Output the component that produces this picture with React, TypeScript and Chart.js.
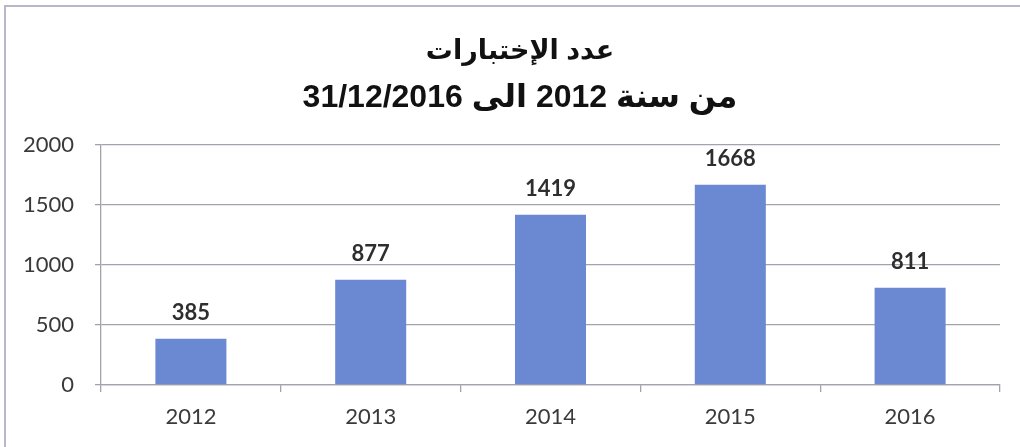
import React, { useEffect, useRef } from "react";
import { Chart, registerables } from "chart.js";

Chart.register(...registerables);

const categories: string[] = ["2012", "2013", "2014", "2015", "2016"];
const testCounts: number[] = [385, 877, 1419, 1668, 811];
const yTicks: number[] = [0, 500, 1000, 1500, 2000];
const titleLine1 = "عدد الإختبارات";
const titleLine2 = "من سنة 2012 الى 31/12/2016";

const valueLabels = {
  id: "valueLabels",
  afterDatasetsDraw(chart: any) {
    const ctx = chart.ctx;
    const meta = chart.getDatasetMeta(0);
    ctx.save();
    ctx.font = "bold 22px Lato, 'Open Sans', sans-serif";
    ctx.fillStyle = "#2e2e2e";
    ctx.textAlign = "center";
    ctx.textBaseline = "middle";
    meta.data.forEach((bar: any, i: number) => {
      ctx.fillText(String(testCounts[i]), bar.x, bar.y - 26);
    });
    ctx.restore();
  },
};

export default function App() {
  const canvasRef = useRef<HTMLCanvasElement>(null);

  useEffect(() => {
    if (!canvasRef.current) return;
    const gridColor = "#a3a3ad";
    const chart = new Chart(canvasRef.current, {
      type: "bar",
      data: {
        labels: categories,
        datasets: [
          {
            data: testCounts,
            backgroundColor: "#6b88d3",
            borderWidth: 0,
            categoryPercentage: 1,
            barPercentage: 0.395,
            yAxisID: "y",
          },
        ],
      },
      options: {
        animation: false,
        responsive: false,
        maintainAspectRatio: false,
        layout: { padding: { left: 20, right: 0, top: 0, bottom: 0 } },
        plugins: {
          legend: { display: false },
          tooltip: { enabled: false },
          title: {
            display: true,
            text: titleLine1,
            color: "#111111",
            font: { family: "'Liberation Sans', 'DejaVu Sans', sans-serif", size: 27, weight: "bold", lineHeight: 1.2 },
            padding: { top: 35, bottom: 2 },
          },
          subtitle: {
            display: true,
            text: titleLine2,
            color: "#111111",
            font: { family: "'Liberation Sans', 'DejaVu Sans', sans-serif", size: 32, weight: "bold", lineHeight: 1.2 },
            padding: { top: 10, bottom: 27.2 },
          },
        },
        scales: {
          x: {
            grid: {
              offset: true,
              drawOnChartArea: false,
              drawTicks: true,
              tickLength: 7,
              color: gridColor,
              lineWidth: 1.3,
            },
            border: { display: true, color: gridColor, width: 1.3 },
            ticks: {
              color: "#3a3a3a",
              font: { family: "Lato, 'Open Sans', sans-serif", size: 22 },
              padding: 12,
            },
            afterFit(scale: any) {
              scale.height = 62;
            },
          },
          y: {
            min: 0,
            max: 2000,
            afterBuildTicks(scale: any) {
              scale.ticks = yTicks.map((v) => ({ value: v }));
            },
            grid: {
              color: gridColor,
              lineWidth: 1.3,
              tickLength: 6,
              drawTicks: true,
            },
            border: { display: true, color: gridColor, width: 1.3 },
            ticks: {
              color: "#3a3a3a",
              font: { family: "Lato, 'Open Sans', sans-serif", size: 22 },
              padding: 21,
              callback: (value: any) => String(value),
            },
            afterFit(scale: any) {
              scale.width = 81;
            },
          },
          yRightSpace: {
            type: "linear",
            position: "right",
            display: true,
            min: 0,
            max: 2000,
            grid: { display: false, drawTicks: false },
            border: { display: false },
            ticks: { display: false },
            afterFit(scale: any) {
              scale.width = 20;
            },
          },
        },
      },
      plugins: [valueLabels],
    });
    return () => chart.destroy();
  }, []);

  return (
    <div style={{ position: "absolute", left: 0, top: 0, width: 1020, height: 447, background: "#ffffff", overflow: "hidden" }}>
      <div
        style={{
          position: "absolute",
          left: 4,
          top: 5,
          width: 1100,
          height: 600,
          borderLeft: "2px solid #bab6ca",
          borderTop: "2px solid #bab6ca",
        }}
      />
      <canvas ref={canvasRef} width={1020} height={447} style={{ position: "absolute", left: 0, top: 0 }} />
    </div>
  );
}
